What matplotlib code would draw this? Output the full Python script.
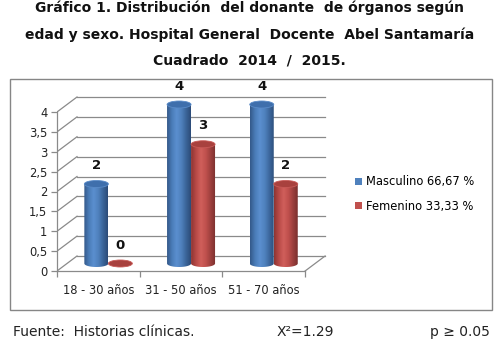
import numpy as np
import matplotlib.pyplot as plt
from matplotlib.patches import Ellipse, Rectangle, Patch, PathPatch
from matplotlib.path import Path
from matplotlib.colors import LinearSegmentedColormap

# datos
grupos = ['18 - 30 años', '31 - 50 años', '51 - 70 años']
masculino = [2, 4, 4]
femenino = [0, 3, 2]
series = ['Masculino 66,67 %', 'Femenino 33,33 %']
yticks = np.arange(0, 4.01, 0.5)
ytick_labels = ['0', '0,5', '1', '1,5', '2', '2,5', '3', '3,5', '4']

titulo = ('Gráfico 1. Distribución  del donante  de órganos según\n'
          'edad y sexo. Hospital General  Docente  Abel Santamaría\n'
          'Cuadrado  2014  /  2015.')

W, H = 499, 341
fig = plt.figure(figsize=(W / 100, H / 100), dpi=100)

# escala del grafico en pixeles
px_x = 82.7      # pixeles por categoria
px_y = 39.75     # pixeles por unidad
x0, y0 = 57, 271 # origen frontal (pixeles desde arriba)
dx, dy = 20, 15  # profundidad
ddx, ddy = dx / px_x, dy / px_y

xmax, ymax = 3.4, 4.8
ax = fig.add_axes([x0 / W, (H - y0) / H, xmax * px_x / W, ymax * px_y / H])
ax.set_xlim(0, xmax)
ax.set_ylim(0, ymax)
ax.patch.set_visible(False)

grid_c = '#8a8a8a'
# pared del fondo y lateral
for v in yticks:
    ax.plot([ddx, 3 + ddx], [v + ddy, v + ddy], color=grid_c, lw=0.9, zorder=1)
    ax.plot([0, ddx], [v, v + ddy], color=grid_c, lw=0.9, zorder=1)
# piso
ax.plot([3, 3 + ddx], [0, ddy], color=grid_c, lw=0.9, zorder=1)

for s in ['top', 'right']:
    ax.spines[s].set_visible(False)
ax.spines['left'].set_bounds(0, 4)
ax.spines['bottom'].set_bounds(0, 3)
for s in ['left', 'bottom']:
    ax.spines[s].set_color(grid_c)
    ax.spines[s].set_linewidth(0.9)
ax.set_yticks(yticks)
ax.set_yticklabels(ytick_labels)
ax.set_xticks([0, 1, 2, 3])
ax.set_xticklabels([])
ax.set_xticks([0.5, 1.5, 2.5], minor=True)
ax.set_xticklabels(grupos, minor=True)
ax.tick_params(axis='both', which='major', color=grid_c, length=4, width=0.9,
               labelsize=8.3, labelcolor='#222222')
ax.tick_params(axis='x', which='minor', length=0, pad=9, labelsize=8.3,
               labelcolor='#222222')
ax.tick_params(axis='y', pad=3)

blue_cmap = LinearSegmentedColormap.from_list(
    'b', ['#34598a', '#4a7cb8', '#5b8fcf', '#4f81bd', '#3b659a', '#2c4c78'])
red_cmap = LinearSegmentedColormap.from_list(
    'r', ['#8e3533', '#b84a47', '#d05f5b', '#c0504d', '#9c3f3d', '#7a2f2d'])
grad = np.linspace(0, 1, 64).reshape(1, -1)

bw = 24 / px_x
eh = 7 / px_y


def cilindro(xc, val, cmap, top_c, edge_c):
    xl, xr = xc - bw / 2, xc + bw / 2
    yb = ddy / 2
    yt = val + ddy / 2
    if val > 0:
        t = np.linspace(0, -np.pi, 40)
        ex = xc + bw / 2 * np.cos(t)
        ey = yb + eh / 2 * np.sin(t)
        verts = [(xl, yt), (xr, yt)] + list(zip(ex, ey)) + [(xl, yt)]
        codes = [Path.MOVETO] + [Path.LINETO] * (len(verts) - 2) + [Path.CLOSEPOLY]
        clip = PathPatch(Path(verts, codes), facecolor='none', edgecolor='none',
                         transform=ax.transData)
        ax.add_patch(clip)
        im = ax.imshow(grad, cmap=cmap, aspect='auto',
                       extent=[xl, xr, yb - eh / 2, yt], zorder=3,
                       interpolation='bilinear')
        im.set_clip_path(clip)
    ax.add_patch(Ellipse((xc, yt), bw, eh, facecolor=top_c, edgecolor=edge_c,
                         lw=0.6, zorder=4))


for i in range(len(grupos)):
    cx = i + 0.5 + ddx / 2
    xb = cx - bw / 2
    xr = cx + bw / 2
    cilindro(xb, masculino[i], blue_cmap, '#3f6fac', '#5a8bc8')
    cilindro(xr, femenino[i], red_cmap, '#a8413e', '#c85a57')
    ax.text(xb, masculino[i] + ddy / 2 + 0.3, str(masculino[i]), ha='center',
            va='bottom', fontsize=9.5, fontweight='bold', color='#111111')
    ax.text(xr, femenino[i] + ddy / 2 + 0.3, str(femenino[i]), ha='center',
            va='bottom', fontsize=9.5, fontweight='bold', color='#111111')

ax.set_xlim(0, xmax)
ax.set_ylim(0, ymax)

# marco del grafico
fig.patches.append(Rectangle((10 / W, (H - 310) / H), 482 / W, 231 / H,
                             transform=fig.transFigure, fill=False,
                             edgecolor='#868686', lw=1))

handles = [Patch(facecolor='#4f81bd'), Patch(facecolor='#c0504d')]
fig.legend(handles, series, loc='center left',
           bbox_to_anchor=(345 / W, (H - 194) / H), frameon=False,
           handlelength=0.6, handleheight=0.6, handletextpad=0.3,
           labelspacing=1.0, prop={'family': 'DejaVu Sans', 'size': 8.3})

fig.text(0.5, 1 - 34 / H, titulo, ha='center', va='center', fontsize=10,
         fontweight='bold', linespacing=2.05, color='#111111')

fig.text(13 / W, 1 - 332 / H, 'Fuente:  Historias clínicas.', ha='left',
         va='center', fontsize=10, color='#222222')
fig.text(277 / W, 1 - 332 / H, 'X²=1.29', ha='left', va='center', fontsize=10,
         color='#222222')
fig.text(490 / W, 1 - 332 / H, 'p ≥ 0.05', ha='right', va='center', fontsize=10,
         color='#222222')

fig.savefig('out.png', dpi=100)
